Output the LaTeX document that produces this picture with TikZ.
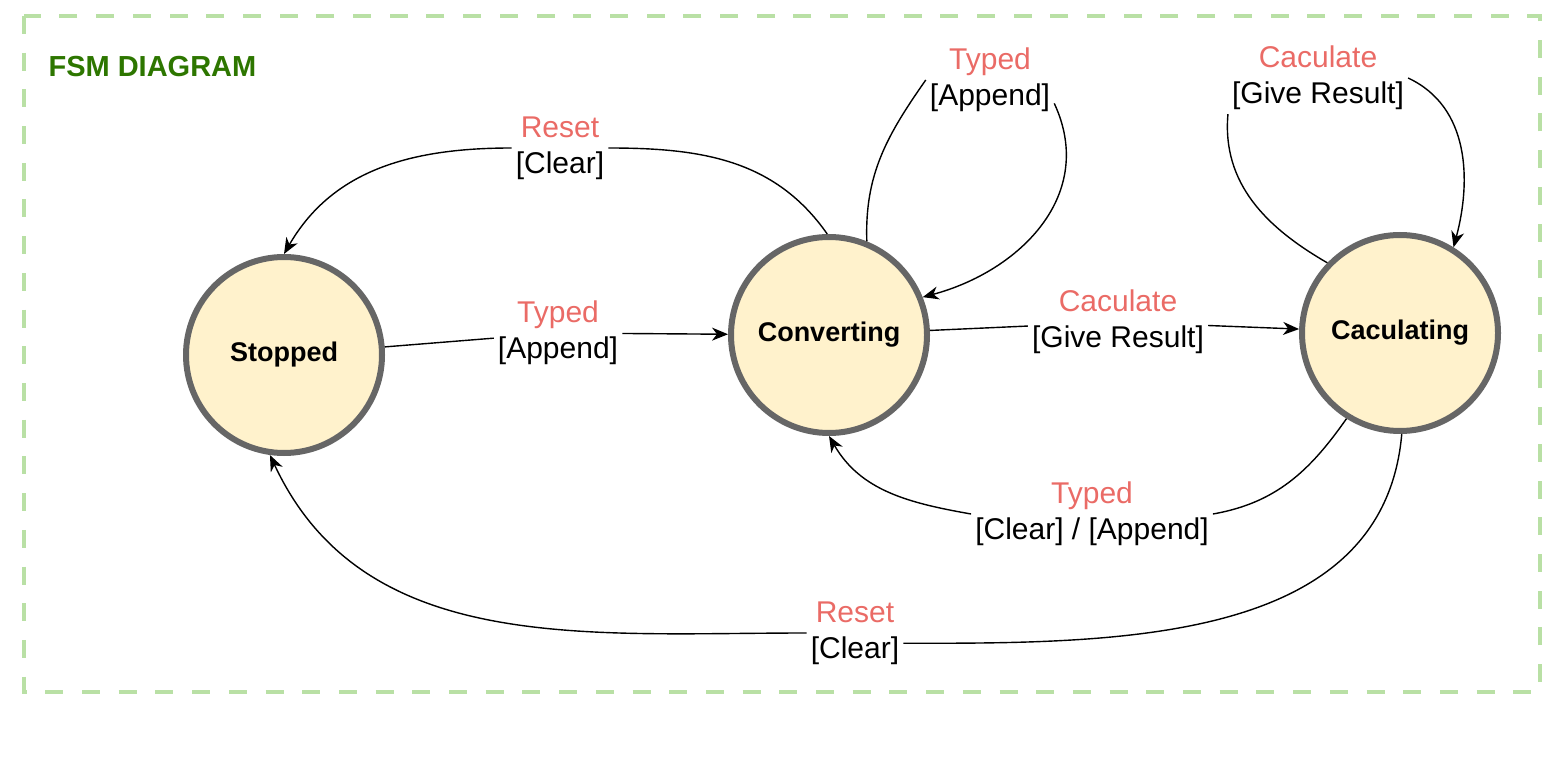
\documentclass[tikz,border=0pt]{standalone}
\usepackage{fontspec}
\setmainfont{Liberation Sans}
\usetikzlibrary{arrows.meta, positioning}
\definecolor{framegreen}{HTML}{B9E0A5}
\definecolor{titlegreen}{HTML}{2D7600}
\definecolor{statefill}{HTML}{FFF2CC}
\definecolor{stateborder}{HTML}{666666}
\definecolor{labelred}{HTML}{EA6B66}

\begin{document}
\begin{tikzpicture}[x=1pt, y=1pt,
  state/.style={circle, draw=stateborder, fill=statefill, line width=6pt, minimum size=196pt, inner sep=0pt, font=\fontsize{27}{32}\selectfont\bfseries},
  lbl/.style={align=center, inner sep=4pt, font=\fontsize{30}{36}\selectfont},
  arrow/.style={-{Stealth[length=16pt, width=13pt, inset=5pt]}, line width=1.4pt},
  frame/.style={draw=framegreen, line width=4.5pt, dash pattern=on 18pt off 18.7pt}
]
  \useasboundingbox (0,0) rectangle (1546,758);

  % Frame
  \draw[frame] (24,742) rectangle (1540,66);
  \node[anchor=base west, text=titlegreen, font=\fontsize{29}{34}\selectfont\bfseries] (title) at (45,681) {FSM DIAGRAM};

  % States
  \node[state] (stop) at (284,403) {Stopped};
  \node[state] (conv) at (829,423) {Converting};
  \node[state] (calc) at (1400,425) {Caculating};

  % Labels
  \node[lbl] (l1) at (558,425) {\textcolor{labelred}{Typed}\\{[Append]}};
  \node[lbl] (l2) at (560,610) {\textcolor{labelred}{Reset}\\{[Clear]}};
  \node[lbl] (l3) at (990,678) {\textcolor{labelred}{Typed}\\{[Append]}};
  \node[lbl] (l4) at (1118,436) {\textcolor{labelred}{Caculate}\\{[Give Result]}};
  \node[lbl] (l5) at (1318,680) {\textcolor{labelred}{Caculate}\\{[Give Result]}};
  \node[lbl] (l6) at (1092,244) {\textcolor{labelred}{Typed}\\{[Clear] / [Append]}};
  \node[lbl] (l7) at (855,125) {\textcolor{labelred}{Reset}\\{[Clear]}};

  % Transitions
  \draw[arrow] (stop) -- (l1) -- (conv);
  \draw[arrow] (conv.91) to[out=125, in=0] (l2) to[out=180, in=60] (stop.90);
  \draw[arrow] (conv.68) to[out=92, in=235] (l3.west) (l3.-20) to[out=-65, in=15, looseness=1.1] (conv.22);
  \draw[arrow] (conv) -- (l4) -- (calc);
  \draw[arrow] (calc.136) to[out=150, in=265] (l5.south west) (l5.east) to[out=-25, in=75] (calc.58);
  \draw[arrow] (calc.238) to[out=235, in=10] (l6.east) (l6.west) to[out=170, in=-60] (conv.270);
  \draw[arrow] (calc.271) to[out=265, in=0] (l7.-12) (l7.west) to[out=180, in=-65] (stop.262);
\end{tikzpicture}
\end{document}
